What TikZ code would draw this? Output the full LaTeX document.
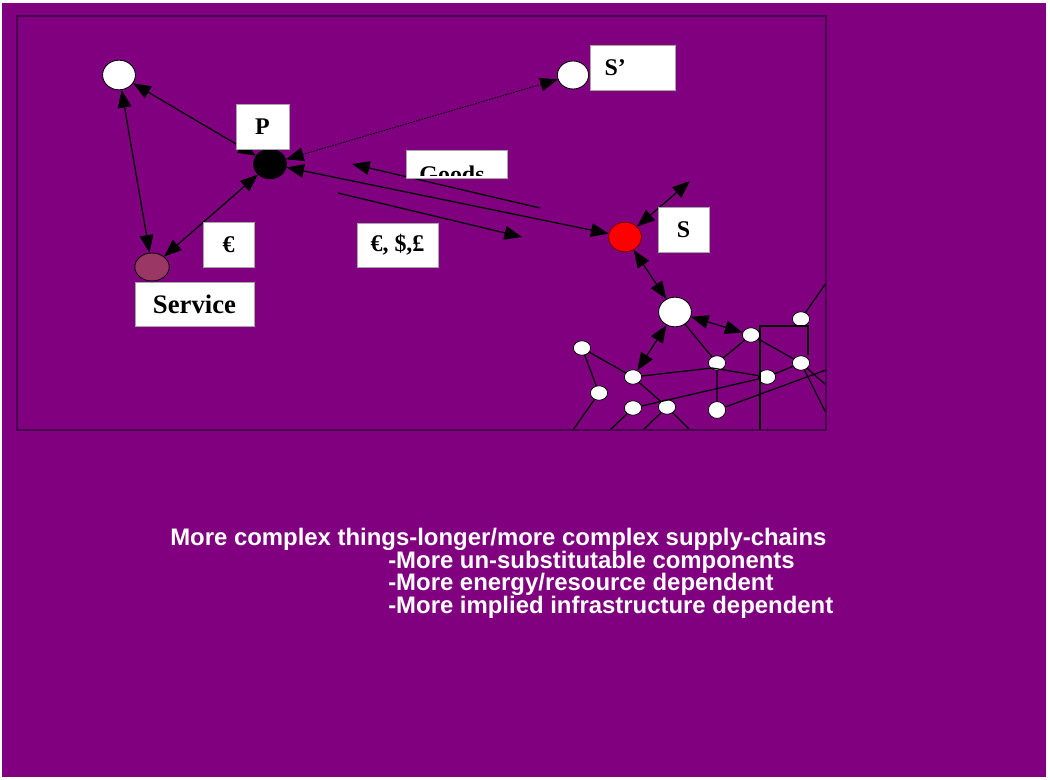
\documentclass[tikz,border=0pt]{standalone}
\usepackage{fontspec}
\setmainfont{Liberation Serif}
\newfontfamily\slidefont{Liberation Sans}
\usepackage{xcolor}
\usetikzlibrary{arrows.meta,shapes.geometric}
\definecolor{slidepurple}{RGB}{128,0,128}
\definecolor{framepurple}{RGB}{72,0,78}
\definecolor{servicerose}{RGB}{155,55,100}
\tikzset{
	agent/.style={ellipse, draw=black, line width=0.6pt, inner sep=0pt,
			minimum width=8.2mm, minimum height=7.4mm},
	site/.style={ellipse, draw=black, line width=0.5pt, fill=white, inner sep=0pt,
			minimum width=4.3mm, minimum height=3.6mm},
	tag/.style={rectangle, draw=gray!70, fill=white, inner sep=0pt,
			font=\bfseries\fontsize{17}{19}\selectfont},
	link/.style={line width=0.9pt, black},
	twoway/.style={link, {Triangle[length=4.4mm,width=3.4mm]}-{Triangle[length=4.4mm,width=3.4mm]}},
	oneway/.style={link, -{Triangle[length=4.4mm,width=3.4mm]}},
	slideline/.style={anchor=base west, text=white, inner sep=0pt,
			font=\slidefont\bfseries\fontsize{17}{20}\selectfont}
}

\begin{document}
\begin{tikzpicture}[x=0.025cm, y=-0.025cm]
	% Slide
	\useasboundingbox (0,0) rectangle (1050,780);
	\fill[white] (0,0) rectangle (1050,780);
	\fill[slidepurple] (2,3) rectangle (1046,777);

	% Agents
	\node[agent, fill=white] (other) at (119,75) {};
	\node[agent, fill=black] (P) at (270,164) {};
	\node[agent, fill=servicerose, minimum width=8.6mm, minimum height=7mm] (service) at (152,267) {};
	\node[agent, fill=white, minimum width=7.8mm, minimum height=7mm] (Sdash) at (573,75) {};
	\node[agent, fill=red, draw=red!45!black] (S) at (625,237) {};
	\node[agent, fill=white] (hub) at (675,312) {};

	% Network
	\node[site] (a) at (582,348) {};
	\node[site] (b) at (633,377) {};
	\node[site] (c) at (599,393) {};
	\node[site] (d) at (633,408) {};
	\node[site] (e) at (667,407) {};
	\node[site] (f) at (717,363) {};
	\node[site, minimum height=4.2mm] (g) at (717,410) {};
	\node[site] (h) at (751,335) {};
	\node[site] (i) at (767,377) {};
	\node[site] (j) at (801,319) {};
	\node[site] (k) at (801,363) {};

	% Free ends
	\coordinate (goodsright) at (540,208);
	\coordinate (goodsleft) at (352,164);
	\coordinate (moneyleft) at (338,193);
	\coordinate (moneyright) at (522,237);
	\coordinate (Sout) at (690,181);
	\coordinate (bf) at (712,368);
	\coordinate (hcorner) at (760,326);
	\coordinate (jcorner) at (808,326);
	\coordinate (c0) at (573,430);
	\coordinate (d0) at (610,430);
	\coordinate (e0) at (643,430);
	\coordinate (e1) at (690,430);
	\coordinate (hb) at (760,430);
	\coordinate (j0) at (826,283);
	\coordinate (g0) at (826,370);
	\coordinate (k0) at (826,413);
	\coordinate (k1) at (826,385);

	% Exchanges
	\draw[twoway] (other) -- (P);
	\draw[twoway] (other) -- (service);
	\draw[twoway] (service) -- (P);
	\draw[twoway, line width=0.6pt, dash pattern=on 1.2pt off 0.8pt] (P) -- (Sdash);
	\draw[twoway] (P) -- (S);
	\draw[oneway] (goodsright) -- (goodsleft);
	\draw[oneway] (moneyleft) -- (moneyright);
	\draw[twoway] (S) -- (Sout);
	\draw[twoway] (S) -- (hub);
	\draw[twoway] (hub) -- (b);
	\draw[twoway] (hub) -- (h);

	% Draw lines
	\draw[link] (a) -- (b);
	\draw[link] (a) -- (c) -- (c0);
	\draw[link] (b) -- (e);
	\draw[link] (b) -- (bf) -- (i);
	\draw[link] (d) -- (d0);
	\draw[link] (d) -- (i);
	\draw[link] (e0) -- (e) -- (e1);
	\draw[link] (hub) -- (f);
	\draw[link] (f) -- (h);
	\draw[link] (f) -- (g) -- (g0);
	\draw[link] (h) -- (k) -- (i);
	\draw[link] (hb) -- (hcorner) -- (jcorner) -- (jcorner |- k.north);
	\draw[link] (j) -- (j0);
	\draw[link] (k) -- (k0);
	\draw[link] (k) -- (k1);

	% Labels
	\node[tag, minimum width=13.25mm, minimum height=11.25mm] (Ptag) at (262.5,126.5) {P};
	\node[tag, minimum width=12.75mm, minimum height=11.25mm] (eurotag) at (228.5,244.5) {€};
	\node[tag, minimum width=29.75mm, minimum height=11mm, font=\bfseries\fontsize{19}{21}\selectfont] (servicetag) at (194.5,304) {Service};
	\node[tag, minimum width=21.25mm, minimum height=11.25mm, text width=14mm, align=left] (Sdashtag) at (632.5,67.5) {S’};
	\node[tag, minimum width=20.25mm, minimum height=11mm] (moneytag) at (397.5,245) {€, \$,£};
	\node[tag, minimum width=12.75mm, minimum height=11.25mm] (Stag) at (683.5,229.5) {S};
	\node[tag, minimum width=25.25mm, minimum height=7mm] (goods) at (456.5,164) {};
	\begin{scope}
		\clip (goods.north west) rectangle ([yshift=0.6mm]goods.south east);
		\node[tag, draw=none, fill=none, anchor=base] (goodstext) at (452,183) {Goods};
	\end{scope}

	% Frame
	\draw[framepurple, line width=1.4pt] (17,16) rectangle (826,430);

	% Text
	\node[slideline] (line1) at (170,545) {More complex things-longer/more complex supply-chains};
	\node[slideline] (line2) at (388,568) {-More un-substitutable components};
	\node[slideline] (line3) at (388,590) {-More energy/resource dependent};
	\node[slideline] (line4) at (388,613) {-More implied infrastructure dependent};
\end{tikzpicture}
\end{document}
